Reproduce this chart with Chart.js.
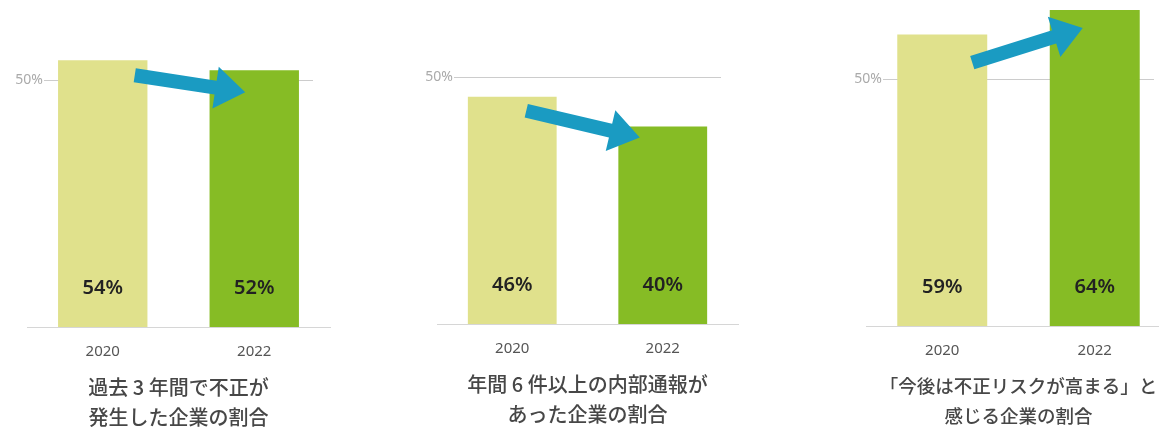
<!DOCTYPE html>
<html lang="ja">
<head>
<meta charset="UTF-8">
<title>不正リスクに関する調査</title>
<script src="https://cdn.jsdelivr.net/npm/chart.js@4.4.0/dist/chart.umd.min.js"></script>
<style>
  html, body { margin: 0; padding: 0; background: #fff; overflow: hidden; }
  body { width: 1159px; height: 436px; position: relative; }
  .panel { position: absolute; height: 436px; }
  #panel1 { left: 0; top: 0; width: 340px; }
  #panel2 { left: 400px; top: -3px; width: 340px; }
  #panel3 { left: 820px; top: -1px; width: 360px; }
</style>
</head>
<body>
<div class="panel" id="panel1"><canvas id="chartFraud"></canvas></div>
<div class="panel" id="panel2"><canvas id="chartReports"></canvas></div>
<div class="panel" id="panel3"><canvas id="chartRisk"></canvas></div>

<script>
// Survey years
const years = ['2020', '2022'];

// Share of companies (%)
const fraudOccurred = [54, 52];
const manyReports = [46, 40];
const riskRising = [59, 64];

// Reference line on each panel
const guideTicks = [50];

// Panel captions (two lines each)
const titleFraud = ['過去 3 年間で不正が', '発生した企業の割合'];
const titleReports = ['年間 6 件以上の内部通報が', 'あった企業の割合'];
const titleRisk = ['「今後は不正リスクが高まる」と', '感じる企業の割合'];

const barColors = ['#e0e18c', '#86bc25'];
const arrowColor = '#1a9bc2';

// 50% guide line, drawn behind the bars
const percentGuide = {
    id: 'percentGuide',
    beforeDatasetsDraw(chart, args, opts) {
        const { ctx, chartArea, scales: { y } } = chart;
        guideTicks.forEach(v => {
            const py = Math.round(y.getPixelForValue(v)) + 0.5;
            const x0 = chartArea.left + opts.inset;
            const x1 = chartArea.right - opts.inset;
            ctx.save();
            ctx.strokeStyle = '#cccccc';
            ctx.lineWidth = 1;
            ctx.beginPath();
            ctx.moveTo(x0, py);
            ctx.lineTo(x1, py);
            ctx.stroke();
            ctx.fillStyle = '#aaaaaa';
            ctx.font = '14px "Noto Sans"';
            ctx.textAlign = 'right';
            ctx.textBaseline = 'middle';
            ctx.fillText(v + '%', x0 - 1, py);
            ctx.restore();
        });
    }
};

// Value labels near the foot of each bar
const barValues = {
    id: 'barValues',
    afterDatasetsDraw(chart) {
        const { ctx, scales: { y } } = chart;
        const meta = chart.getDatasetMeta(0);
        const data = chart.data.datasets[0].data;
        const baseY = y.getPixelForValue(0);
        ctx.save();
        ctx.fillStyle = '#222';
        ctx.font = '600 20px "Noto Sans"';
        ctx.textAlign = 'center';
        ctx.textBaseline = 'middle';
        meta.data.forEach((bar, i) => {
            ctx.fillText(data[i] + '%', bar.x, baseY - 39);
        });
        ctx.restore();
    }
};

// Trend arrow from the first bar to the second
function drawArrow(ctx, x0, y0, x1, y1) {
    const ang = Math.atan2(y1 - y0, x1 - x0);
    const len = Math.hypot(x1 - x0, y1 - y0);
    const shaft = 7, headLen = 30, headHalf = 21;
    ctx.save();
    ctx.translate(x0, y0);
    ctx.rotate(ang);
    ctx.fillStyle = arrowColor;
    ctx.beginPath();
    ctx.moveTo(0, -shaft);
    ctx.lineTo(len - headLen, -shaft);
    ctx.lineTo(len - headLen, -headHalf);
    ctx.lineTo(len, 0);
    ctx.lineTo(len - headLen, headHalf);
    ctx.lineTo(len - headLen, shaft);
    ctx.lineTo(0, shaft);
    ctx.closePath();
    ctx.fill();
    ctx.restore();
}

const trendArrow = {
    id: 'trendArrow',
    afterDatasetsDraw(chart, args, opts) {
        const bars = chart.getDatasetMeta(0).data;
        const a = bars[0], b = bars[1];
        drawArrow(chart.ctx,
            a.x + opts.from[0], a.y + opts.from[1],
            b.x + opts.to[0], b.y + opts.to[1]);
    }
};

function buildPanel(canvasId, values, caption, captionSize, pad, arrow) {
    const ctx = document.getElementById(canvasId).getContext('2d');
    return new Chart(ctx, {
        type: 'bar',
        data: {
            labels: years,
            datasets: [{
                data: values,
                backgroundColor: barColors,
                borderWidth: 0,
                barPercentage: 0.59,
                categoryPercentage: 1
            }]
        },
        options: {
            responsive: true,
            maintainAspectRatio: false,
            animation: false,
            events: [],
            layout: {
                padding: { top: 1, left: pad.left, right: pad.right, bottom: 0 }
            },
            plugins: {
                legend: { display: false },
                tooltip: { enabled: false },
                title: {
                    display: true,
                    position: 'bottom',
                    text: caption,
                    color: '#474747',
                    font: { family: '"Noto Sans CJK JP"', size: captionSize, weight: 500, lineHeight: 30 / captionSize },
                    // tick labels reserve padding twice, so pull the caption up
                    padding: { top: -5, bottom: 4 }
                },
                percentGuide: { inset: 17 },
                trendArrow: arrow
            },
            scales: {
                x: {
                    grid: { display: true, color: 'transparent', drawTicks: false },
                    border: { display: true, color: '#d6d6d6', width: 1 },
                    ticks: {
                        color: '#555',
                        padding: 16,
                        font: { family: '"Noto Sans"', size: 15 }
                    }
                },
                y: {
                    display: false,
                    min: 0,
                    max: 66
                }
            }
        },
        plugins: [percentGuide, barValues, trendArrow]
    });
}

buildPanel('chartFraud', fraudOccurred, titleFraud, 20,
    { left: 27, right: 10 }, { from: [32, 15], to: [-9, 22] });
buildPanel('chartReports', manyReports, titleReports, 20,
    { left: 37, right: 2 }, { from: [14, 14], to: [-23, 11] });
buildPanel('chartRisk', riskRising, titleRisk, 18.5,
    { left: 46, right: 9 }, { from: [30, 28], to: [-12, 18] });
</script>
</body>
</html>
